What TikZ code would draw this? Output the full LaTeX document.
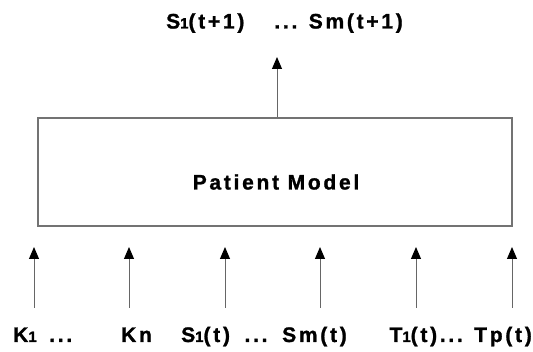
\documentclass[tikz,border=0pt]{standalone}
\usepackage{fontspec}
\setmainfont{Liberation Sans}
\newfontfamily\lblfont[LetterSpace=13,FakeBold=1.2]{Liberation Sans Bold}
\usetikzlibrary{arrows.meta}
\newcommand{\sub}[1]{{\fontsize{15pt}{15pt}\selectfont #1}}
\begin{document}
\begin{tikzpicture}[x=1pt,y=-1pt,
  lbl/.style={inner sep=0pt,anchor=base west,font=\lblfont\fontsize{21pt}{22pt}\selectfont},
  modelbox/.style={draw=black!55,line width=1.3pt,fill=white},
  feed/.style={draw=black!60,line width=1pt,-{Triangle[length=12pt,width=10pt,color=black]}}]
\useasboundingbox (0,0) rectangle (533,352);
% the model block
\node[modelbox,minimum width=474pt,minimum height=108pt,inner sep=0pt] (model) at (275,172) {};
\node[lbl,anchor=base] (mname) at (276,189.5) {Patient Model};
% output state
\coordinate (outtip) at (277,57);
\draw[feed] (model.north -| outtip) -- (outtip);
\node[lbl] (outlbl) at (166,28.5) {S\sub{1}(t+1)\hspace{30pt}... Sm(t+1)};
% inputs
\foreach \n/\x in {a/34,b/129,c/225,d/320,e/416,f/512}{
  \coordinate (in\n) at (\x,308);
  \coordinate (tip\n) at (\x,247);
  \draw[feed] (in\n) -- (tip\n);
}
\node[lbl] (k1) at (13,342) {K\sub{1}\hspace{4pt} ...};
\node[lbl] (kn) at (121,342) {Kn};
\node[lbl] (s1) at (181,342) {S\sub{1}(t)\hspace{6pt} ...};
\node[lbl] (sm) at (282,342) {Sm(t)};
\node[lbl,anchor=base east] (tt) at (532,342) {T\sub{1}(t)... Tp(t)};
\end{tikzpicture}
\end{document}
